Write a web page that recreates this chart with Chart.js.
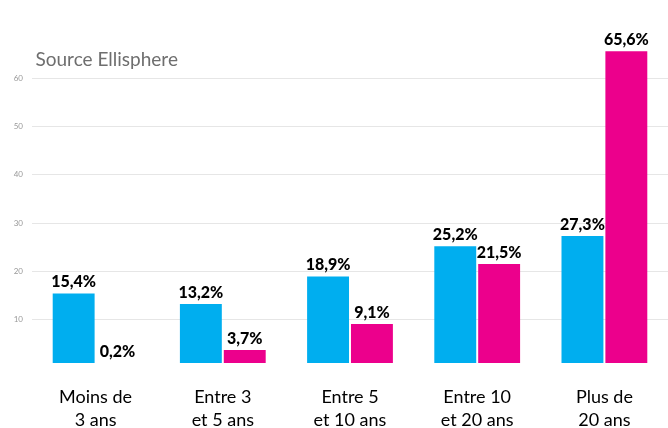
<!DOCTYPE html>
<html>
<head>
<meta charset="utf-8">
<script src="https://cdn.jsdelivr.net/npm/chart.js@4"></script>
<style>
  html, body { margin: 0; padding: 0; background: #fff; }
  #wrap { position: relative; width: 668px; height: 428px; }
</style>
</head>
<body>
<div id="wrap"><canvas id="chart"></canvas></div>
<script>
/* ───────── data ───────── */
const categories = [
  ['Moins de', '3 ans'],
  ['Entre 3', 'et 5 ans'],
  ['Entre 5', 'et 10 ans'],
  ['Entre 10', 'et 20 ans'],
  ['Plus de', '20 ans'],
];
const seriesBlue = [15.4, 13.2, 18.9, 25.2, 27.3];
const seriesPink = [0.2, 3.7, 9.1, 21.5, 65.6];
const yTicks = [10, 20, 30, 40, 50, 60];
const sourceText = 'Source Ellisphere';

const COLORS = { blue: '#00AEEF', pink: '#EC008C' };

/* ───────── plugins ───────── */
const valueLabels = {
  id: 'valueLabels',
  afterDatasetsDraw(chart) {
    const { ctx, chartArea } = chart;
    ctx.save();
    ctx.font = '900 16px Lato';
    ctx.fillStyle = '#000';
    ctx.textAlign = 'center';
    ctx.textBaseline = 'middle';
    chart.data.datasets.forEach((ds, i) => {
      chart.getDatasetMeta(i).data.forEach((bar, j) => {
        const y = Math.min(bar.y, chartArea.bottom);
        const txt = ds.data[j].toFixed(1).replace('.', ',') + '%';
        ctx.fillText(txt, bar.x, y - 11.5);
      });
    });
    ctx.restore();
  },
};

const sourceLabel = {
  id: 'sourceLabel',
  afterDraw(chart) {
    const { ctx, chartArea } = chart;
    ctx.save();
    ctx.font = '19px Lato';
    ctx.fillStyle = '#6e6e6e';
    ctx.textAlign = 'left';
    ctx.textBaseline = 'middle';
    ctx.fillText(sourceText, chartArea.left + 3.5, 59.5);
    ctx.restore();
  },
};

/* ───────── chart ───────── */
new Chart(document.getElementById('chart'), {
  type: 'bar',
  data: {
    labels: categories,
    datasets: [
      { data: seriesBlue, backgroundColor: COLORS.blue, categoryPercentage: 0.69, barPercentage: 0.955 },
      { data: seriesPink, backgroundColor: COLORS.pink, categoryPercentage: 0.69, barPercentage: 0.955 },
    ],
  },
  options: {
    responsive: true,
    maintainAspectRatio: false,
    animation: false,
    layout: { padding: { top: 30, left: 0, right: 0, bottom: 0 } },
    plugins: {
      legend: { display: false },
      tooltip: { enabled: false },
    },
    scales: {
      x: {
        grid: { display: false, drawTicks: false },
        border: { display: false },
        ticks: {
          color: '#000',
          font: { family: 'Lato', size: 18, weight: '400', lineHeight: 1.3 },
          padding: 22,
          maxRotation: 0,
          autoSkip: false,
        },
        afterFit: (s) => { s.height = 65; },
      },
      y: {
        min: 1,
        max: 70,
        afterBuildTicks: (s) => { s.ticks = yTicks.map((v) => ({ value: v })); },
        grid: { color: '#e6e6e6', drawTicks: false },
        border: { display: false },
        ticks: {
          color: '#999',
          font: { family: 'Lato', size: 8 },
          padding: 9,
        },
        afterFit: (s) => { s.width = 32; },
      },
    },
  },
  plugins: [valueLabels, sourceLabel],
});
</script>
</body>
</html>
